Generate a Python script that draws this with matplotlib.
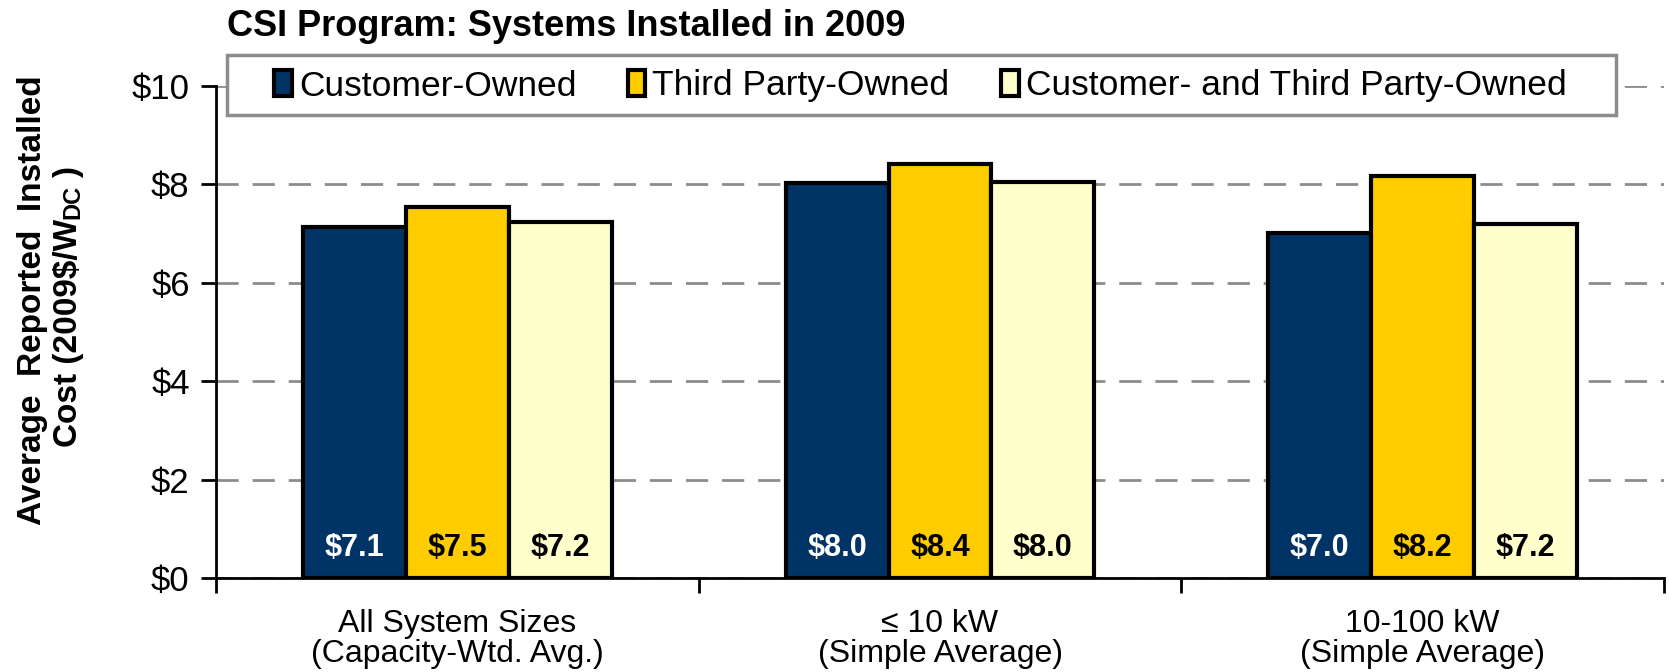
"""CSI Program: average reported installed cost by ownership, systems installed in 2009."""
import numpy as np
import matplotlib
matplotlib.use("Agg")
import matplotlib.pyplot as plt
from matplotlib.patches import Patch, Rectangle

NARROW = ["Liberation Sans Narrow", "Liberation Sans", "DejaVu Sans"]
WIDE = ["Liberation Sans", "DejaVu Sans"]

categories = ["All System Sizes\n(Capacity-Wtd. Avg.)",
              "\u2264 10 kW\n(Simple Average)",
              "10-100 kW\n(Simple Average)"]
series_names = ["Customer-Owned", "Third Party-Owned",
                "Customer- and Third Party-Owned"]
customer_owned = [7.13, 8.02, 7.02]
third_party = [7.54, 8.42, 8.18]
combined = [7.23, 8.04, 7.19]
y_ticks = [0, 2, 4, 6, 8, 10]

colors = ["#003366", "#FFCC00", "#FFFFCC"]
text_colors = ["white", "black", "black"]

W, H = 1669, 672
fig = plt.figure(figsize=(W / 100, H / 100), dpi=100)
ax = fig.add_axes([216 / W, 1 - 578 / H, (1664 - 216) / W, (578 - 86) / H])

x = np.arange(len(categories))
width = 0.213
for i, (vals, c, tc) in enumerate(zip([customer_owned, third_party, combined],
                                      colors, text_colors)):
    pos = x + (i - 1) * width
    ax.bar(pos, vals, width=width, color=c, edgecolor="black",
           linewidth=3, zorder=3)
    for px, v in zip(pos, vals):
        ax.text(px, 0.6, f"${v:.1f}", ha="center", va="center",
                color=tc, fontsize=22, fontweight="bold", family=NARROW,
                zorder=4)

ax.set_xlim(-0.5, 2.5)
ax.set_ylim(0, 10)
ax.set_yticks(y_ticks)
ax.set_yticklabels([f"${v}" for v in y_ticks], family=NARROW, fontsize=25)
ax.set_xticks([-0.5, 0.5, 1.5, 2.5])
ax.set_xticklabels([])
ax.set_xticks(x, minor=True)
ax.set_xticklabels(categories, minor=True, family=NARROW, fontsize=23,
                   linespacing=1.0)
ax.tick_params(axis="x", which="minor", length=0, pad=22)
ax.tick_params(axis="x", which="major", length=11, width=2, direction="out")
ax.tick_params(axis="y", length=11, width=2, direction="out", pad=8)

for s in ["top", "right"]:
    ax.spines[s].set_visible(False)
ax.spines["left"].set_linewidth(2)
ax.spines["bottom"].set_linewidth(2)

ax.yaxis.grid(True, color="#8c8c8c", linewidth=2, linestyle=(0, (8, 5)),
              zorder=0)
ax.set_axisbelow(True)

# y label: two rotated lines; the W_DC subscript is chained by hand because
# mathtext mangles the "$" next to it
ylab_kw = dict(rotation=90, fontweight="bold", family=WIDE)
fig.text(33 / W, 1 - 300 / H, "Average  Reported  Installed",
         ha="center", va="center", fontsize=24, **ylab_kw)
t2 = fig.text(69 / W, 1 - 447 / H, "Cost (2009$/W",
              ha="center", va="bottom", fontsize=24, **ylab_kw)
dc = ax.annotate("DC", xy=(1.0, 1.0), xycoords=t2, ha="right", va="bottom",
                 fontsize=17, annotation_clip=False, **ylab_kw)
ax.annotate(")", xy=(0.5, 1.0), xycoords=(t2, dc), xytext=(0, 5),
            textcoords="offset points", ha="center", va="bottom",
            fontsize=24, annotation_clip=False, **ylab_kw)

fig.text(227 / W, 1 - 26 / H, "CSI Program: Systems Installed in 2009",
         ha="left", va="center", fontsize=26, fontweight="bold", family=WIDE)

# legend box drawn separately so the left padding can be wider than the rest
fig.patches.append(Rectangle((227 / W, 1 - 115 / H), (1616 - 227) / W, 60 / H,
                             transform=fig.transFigure, facecolor="white",
                             edgecolor="#8c8c8c", linewidth=2.5, zorder=2))
handles = [Patch(facecolor=c, edgecolor="black", linewidth=3)
           for c in colors]
leg = fig.legend(handles, series_names, loc="center left",
                 bbox_to_anchor=(274 / W, 1 - 86 / H), ncol=3,
                 prop={"family": NARROW, "size": 25.5}, frameon=False,
                 handlelength=0.5, handleheight=0.75,
                 handletextpad=0.2, columnspacing=1.45, borderpad=0,
                 borderaxespad=0)
leg.set_zorder(3)

fig.savefig("out.png", dpi=100)
